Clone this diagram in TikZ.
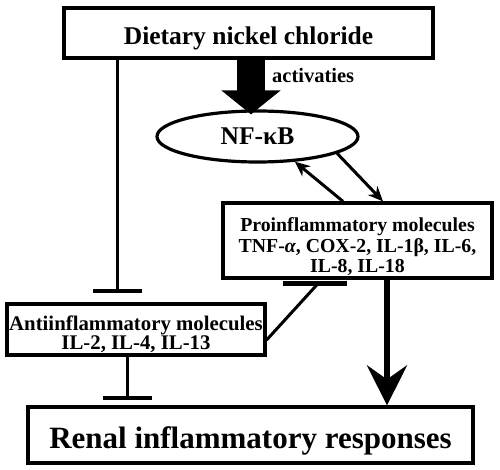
\documentclass[tikz,border=0pt]{standalone}
\usepackage{fontspec}
\setmainfont{Liberation Serif}
\usetikzlibrary{arrows.meta,shapes.geometric}
\begin{document}
\begin{tikzpicture}[x=1pt,y=-1pt,
  box/.style={draw, line width=3.2pt, inner sep=0pt, align=center},
  conn/.style={line width=3pt},
  thinarrow/.style={conn, -{Stealth[length=15pt,width=13pt]}},
  inhib/.style={conn, -{Bar[width=49pt,line width=4.5pt]}}]
\useasboundingbox (0,0) rectangle (500,470);
\node[box, minimum width=369pt, minimum height=50pt, text height=24pt, text depth=0pt,
      font=\fontsize{25.5}{28}\selectfont\bfseries] (top) at (248.5,33) {Dietary nickel chloride};
\node[draw, ellipse, line width=3.2pt, minimum width=201pt, minimum height=51pt, inner sep=0pt,
      font=\fontsize{25.5}{28}\selectfont\bfseries] (nf) at (257.5,136.5) {NF-κB};
\node[anchor=base west, inner sep=0pt, font=\fontsize{20.5}{22}\selectfont\bfseries] (act) at (272,83) {activaties};
\node[box, minimum width=269pt, minimum height=75pt, text height=63pt, text depth=0pt,
      font=\fontsize{19.8}{20}\selectfont\bfseries] (pro) at (357.5,240.5)
      {Proinflammatory molecules\\TNF-\textit{α}, COX-2, IL-1β, IL-6,\\IL-8, IL-18};
\node[box, minimum width=258pt, minimum height=51pt, text height=39pt, text depth=0pt,
      font=\fontsize{20.8}{19}\selectfont\bfseries] (anti) at (136,329.5)
      {Antiinflammatory molecules\\IL-2, IL-4, IL-13};
\node[box, minimum width=445pt, minimum height=56pt, text height=26pt, text depth=0pt,
      font=\fontsize{31}{34}\selectfont\bfseries] (renal) at (250.5,435) {Renal inflammatory responses};
% big activation arrow
\draw[line width=28pt, -{Triangle[length=24pt,width=58pt]}] ([xshift=2.5pt]top.south) -- ([xshift=-6.5pt,yshift=-5pt]nf.north);
% NF-kB <-> proinflammatory
\draw[thinarrow] ([xshift=-14.5pt]pro.north) -- (nf.-34);
\draw[thinarrow] (nf.-12.5) -- ([xshift=25.5pt]pro.north);
% inhibitions
\draw[inhib] ([xshift=-131.5pt]top.south) -- ([xshift=-19pt,yshift=9pt]anti.north);
\draw[inhib] ([xshift=-9pt]anti.south) -- ([xshift=-123.5pt,yshift=5pt]renal.north);
\draw[conn] ([yshift=-10.5pt]anti.east) -- ([xshift=-39.5pt,yshift=-4pt]pro.south);
\draw[line width=5pt] ([xshift=-74.5pt,yshift=-4pt]pro.south) -- ([xshift=-10.5pt,yshift=-4pt]pro.south);
% pro -> renal
\draw[line width=6pt, -{Stealth[length=40pt,width=40pt,inset=14pt]}] ([xshift=29.5pt]pro.south) -- ([xshift=136.5pt]renal.north);
\end{tikzpicture}
\end{document}
